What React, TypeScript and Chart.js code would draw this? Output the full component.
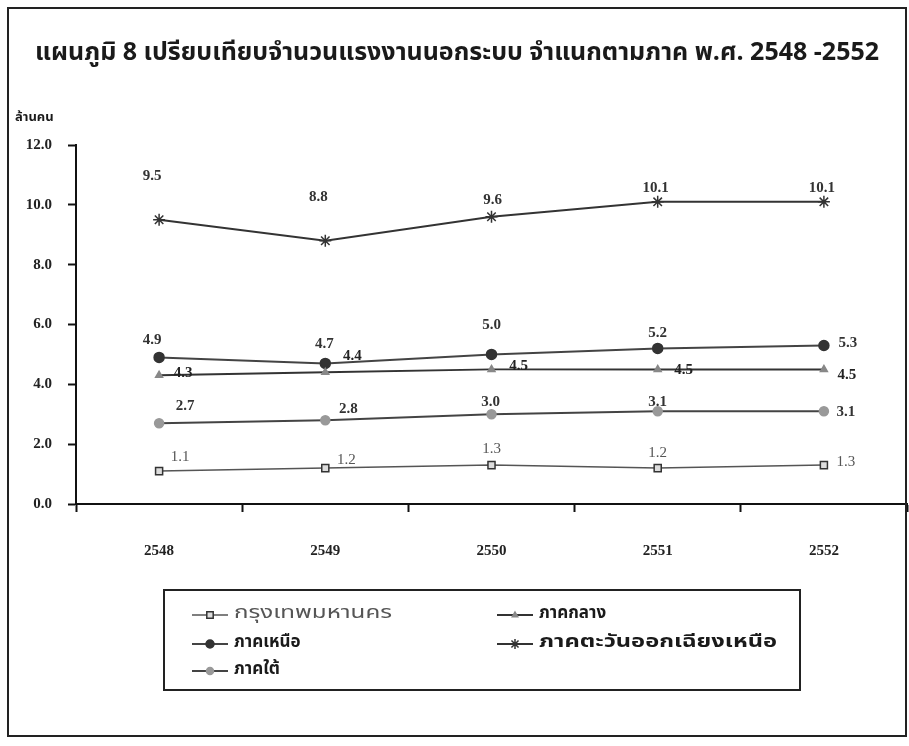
import React, { useEffect, useRef } from "react";
import { Chart, registerables } from "chart.js";

Chart.register(...registerables);

const TITLE = "แผนภูมิ 8 เปรียบเทียบจำนวนแรงงานนอกระบบ จำแนกตามภาค พ.ศ. 2548 -2552";
const Y_UNIT = "ล้านคน";
const years = ["2548", "2549", "2550", "2551", "2552"];
const seriesNames = ["กรุงเทพมหานคร", "ภาคกลาง", "ภาคเหนือ", "ภาคตะวันออกเฉียงเหนือ", "ภาคใต้"];
const bangkok = [1.1, 1.2, 1.3, 1.2, 1.3];
const central = [4.3, 4.4, 4.5, 4.5, 4.5];
const north = [4.9, 4.7, 5.0, 5.2, 5.3];
const northeast = [9.5, 8.8, 9.6, 10.1, 10.1];
const south = [2.7, 2.8, 3.0, 3.1, 3.1];

// label placement offsets (dx, dy) per point, per series
const LABEL_OFFSETS: Record<string, number[][]> = {
  bangkok: [[21, -14], [21, -8], [0, -16], [0, -15], [22, -3]],
  central: [[24, -2], [27, -16], [27, -3], [26, 1], [23, 6]],
  north: [[-7, -17], [-1, -19], [0, -29], [0, -15], [24, -2]],
  northeast: [[-7, -44], [-7, -44], [1, -17], [-2, -14], [-2, -14]],
  south: [[26, -17], [23, -11], [-1, -12], [0, -9], [22, 1]],
};

const THAI_FONT = "'Noto Sans Thai', 'Loma', 'Garuda', 'Noto Sans', 'DejaVu Sans', sans-serif";
const SERIF = "'Liberation Serif', 'DejaVu Serif', serif";

function drawMarker(ctx: CanvasRenderingContext2D, style: string, r: number, x: number, y: number) {
  ctx.beginPath();
  if (style === "rect") {
    ctx.rect(x - r * 0.8, y - r * 0.8, r * 1.6, r * 1.6);
    ctx.fill();
    ctx.stroke();
  } else if (style === "triangle") {
    ctx.moveTo(x, y - r);
    ctx.lineTo(x + r * 0.9, y + r * 0.6);
    ctx.lineTo(x - r * 0.9, y + r * 0.6);
    ctx.closePath();
    ctx.fill();
    ctx.stroke();
  } else if (style === "circle") {
    ctx.arc(x, y, r, 0, Math.PI * 2);
    ctx.fill();
    ctx.stroke();
  } else if (style === "star") {
    for (let k = 0; k < 4; k++) {
      const a = (k * Math.PI) / 4;
      ctx.moveTo(x - Math.cos(a) * r, y - Math.sin(a) * r);
      ctx.lineTo(x + Math.cos(a) * r, y + Math.sin(a) * r);
    }
    ctx.stroke();
  }
}

const framePlugin = {
  id: "frameAndExtras",
  afterDraw(chart: any) {
    const ctx = chart.ctx;
    ctx.save();
    // frame
    ctx.strokeStyle = "#222";
    ctx.lineWidth = 2;
    ctx.strokeRect(8, 8, 898, 728);
    // title
    ctx.fillStyle = "#1a1a1a";
    ctx.font = `bold 25px ${THAI_FONT}`;
    ctx.textAlign = "center";
    ctx.textBaseline = "middle";
    ctx.fillText(TITLE, 457, 55, 855);
    // y unit
    ctx.font = `bold 13px ${THAI_FONT}`;
    ctx.textAlign = "left";
    ctx.fillText(Y_UNIT, 15, 118, 44);

    // data labels
    const keys = ["bangkok", "central", "north", "northeast", "south"];
    chart.data.datasets.forEach((ds: any, i: number) => {
      const meta = chart.getDatasetMeta(i);
      const offs = LABEL_OFFSETS[keys[i]];
      ctx.font = ds.labelFont;
      ctx.fillStyle = ds.labelColor;
      ctx.textAlign = "center";
      ctx.textBaseline = "middle";
      meta.data.forEach((pt: any, j: number) => {
        const v = ds.data[j];
        ctx.fillText(v.toFixed(1), pt.x + offs[j][0], pt.y + offs[j][1]);
      });
    });

    // legend box
    ctx.strokeStyle = "#222";
    ctx.lineWidth = 2;
    ctx.strokeRect(164, 590, 636, 100);
    // [x, y, target text width (0 = natural)]
    const slots = [
      [192, 615, 158],
      [497, 615, 0],
      [192, 644, 0],
      [497, 644, 238],
      [192, 671, 0],
    ];
    chart.data.datasets.forEach((ds: any, i: number) => {
      const [x, y, tw] = slots[i];
      ctx.strokeStyle = ds.borderColor;
      ctx.lineWidth = ds.borderWidth;
      ctx.beginPath();
      ctx.moveTo(x, y);
      ctx.lineTo(x + 36, y);
      ctx.stroke();
      ctx.fillStyle = ds.pointBackgroundColor;
      ctx.strokeStyle = ds.pointBorderColor;
      ctx.lineWidth = ds.pointBorderWidth;
      drawMarker(ctx, ds.pointStyle, ds.pointRadius - 1, x + 18, y);
      ctx.fillStyle = i === 0 ? "#555" : "#1a1a1a";
      ctx.font = `${i === 0 ? "" : "bold "}17px ${THAI_FONT}`;
      ctx.textAlign = "left";
      ctx.textBaseline = "middle";
      const w = ctx.measureText(ds.label).width;
      const sx = tw ? tw / w : 1;
      ctx.save();
      ctx.translate(x + 42, y);
      ctx.scale(sx, 1);
      ctx.fillText(ds.label, 0, 0);
      ctx.restore();
    });
    ctx.restore();
  },
};

export default function App() {
  const ref = useRef<HTMLCanvasElement | null>(null);
  useEffect(() => {
    if (!ref.current) return;
    const mk = (
      label: string,
      data: number[],
      lineColor: string,
      width: number,
      style: string,
      fill: string,
      border: string,
      radius: number,
      labelFont: string,
      labelColor: string
    ) => ({
      label,
      data,
      borderColor: lineColor,
      borderWidth: width,
      pointStyle: style,
      pointBackgroundColor: fill,
      pointBorderColor: border,
      pointBorderWidth: 1.5,
      pointRadius: radius,
      tension: 0,
      fill: false,
      labelFont,
      labelColor,
    });
    const chart = new Chart(ref.current, {
      type: "line",
      data: {
        labels: years,
        datasets: [
          mk(seriesNames[0], bangkok, "#555", 1.5, "rect", "#ddd", "#333", 5, `15px ${SERIF}`, "#555"),
          mk(seriesNames[1], central, "#333", 2, "triangle", "#888", "#888", 4, `bold 15px ${SERIF}`, "#222"),
          mk(seriesNames[2], north, "#444", 2, "circle", "#333", "#333", 5, `bold 15px ${SERIF}`, "#333"),
          mk(seriesNames[3], northeast, "#333", 2, "star", "#333", "#333", 6, `bold 15px ${SERIF}`, "#333"),
          mk(seriesNames[4], south, "#444", 2, "circle", "#999", "#999", 4.5, `bold 15px ${SERIF}`, "#333"),
        ] as any,
      },
      options: {
        animation: false,
        responsive: false,
        layout: { autoPadding: false, padding: { left: 0, top: 145, right: 2, bottom: 0 } },
        plugins: {
          legend: { display: false },
          title: { display: false },
          tooltip: { enabled: false },
        },
        scales: {
          x: {
            offset: true,
            afterFit: (s: any) => {
              s.height = 242;
              s.paddingRight = 0;
              s.paddingLeft = 0;
            },
            grid: {
              offset: true,
              drawOnChartArea: false,
              drawTicks: true,
              tickLength: 8,
              tickWidth: 2,
              tickColor: "#111",
            },
            border: { display: true, color: "#111", width: 2 },
            ticks: {
              padding: 30,
              color: "#222",
              font: { family: SERIF, size: 15, weight: "bold" },
            },
          },
          y: {
            min: 0,
            max: 12,
            afterFit: (s: any) => {
              s.width = 76;
            },
            grid: {
              drawOnChartArea: false,
              drawTicks: true,
              tickLength: 8,
              tickWidth: 2,
              tickColor: "#111",
            },
            border: { display: true, color: "#111", width: 2 },
            ticks: {
              stepSize: 2,
              padding: 16,
              color: "#222",
              font: { family: SERIF, size: 15, weight: "bold" },
              callback: (v: any) => Number(v).toFixed(1),
            },
          },
        },
      } as any,
      plugins: [framePlugin],
    });
    return () => chart.destroy();
  }, []);
  return (
    <div style={{ position: "absolute", left: 0, top: 0, width: 909, height: 746, background: "#fff" }}>
      <canvas ref={ref} width={909} height={746} style={{ display: "block" }} />
    </div>
  );
}
